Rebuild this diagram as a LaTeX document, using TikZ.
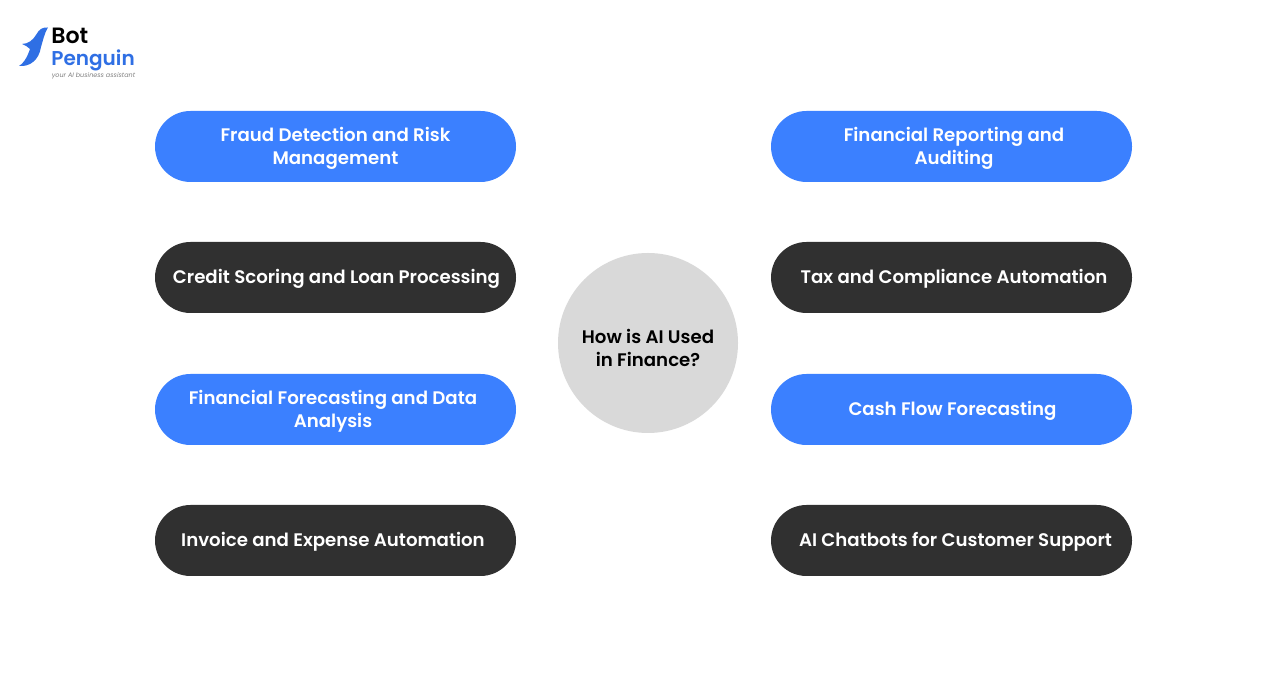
\documentclass[tikz,border=0pt]{standalone}
\usepackage{fontspec}
\setmainfont{Poppins}[BoldFont=Poppins SemiBold]
\usepackage{tikz}
\usetikzlibrary{shapes.misc}
\definecolor{pillBlue}{HTML}{3B80FF}
\definecolor{pillDark}{HTML}{303030}
\definecolor{hubGray}{HTML}{D9D9D9}
\definecolor{logoBlue}{HTML}{2F6FE4}
\tikzstyle{tsPillText} = [
    text=white,
    font=\bfseries\fontsize{10.35}{13.1}\selectfont,
    align=center,
    yshift=-0.03cm
]
\tikzstyle{tsHubText} = [
    tsPillText,
    text=black,
    yshift=-0.06cm
]
\tikzstyle{tsPill} = [
    rounded rectangle,
    minimum width=7.22cm,
    minimum height=1.42cm,
    inner sep=0pt
]
\tikzstyle{tsBluePill} = [tsPill, fill=pillBlue]
\tikzstyle{tsDarkPill} = [tsPill, fill=pillDark]

\begin{document}
\begin{tikzpicture}
    \useasboundingbox (0,0) rectangle (25.76,13.72);

    % Logo
    \fill[logoBlue] (0.96,13.17) .. controls (0.86,13.18) and (0.78,13.14) .. (0.72,13.02)
        .. controls (0.66,12.92) and (0.56,12.84) .. (0.44,12.84)
        .. controls (0.50,12.82) and (0.56,12.78) .. (0.60,12.74)
        .. controls (0.54,12.56) and (0.46,12.44) .. (0.38,12.40)
        .. controls (0.60,12.38) and (0.78,12.52) .. (0.82,12.78)
        .. controls (0.86,12.90) and (0.88,13.04) .. cycle;
    \node[font=\bfseries\fontsize{12.6}{13}\selectfont, text=black, anchor=base west, inner sep=0pt]
        (logoBot) at (1.02,12.84) {Bot};
    \node[font=\bfseries\fontsize{11.4}{12}\selectfont, text=logoBlue, anchor=base west, inner sep=0pt]
        (logoPenguin) at (1.02,12.40) {Penguin};
    \node[font=\itshape\fontsize{3.66}{5}\selectfont, text=gray, anchor=base west, inner sep=0pt]
        (logoTag) at (1.03,12.16) {your AI business assistant};

    % Center circle
    \node[circle, fill=hubGray, minimum size=3.6cm, inner sep=0pt] (hub) at (12.96,6.86) {};
    \node[tsHubText] (hubText) at (hub) {How is AI Used\\in Finance?};

    % Left column
    \node[tsBluePill] (fraud) at (6.71,10.79) {};
    \node[tsPillText] (fraudText) at (fraud) {Fraud Detection and Risk\\Management};
    \node[tsDarkPill] (credit) at (6.71,8.17) {};
    \node[tsPillText, xshift=0.02cm] (creditText) at (credit) {Credit Scoring and Loan Processing};
    \node[tsBluePill] (forecast) at (6.71,5.53) {};
    \node[tsPillText, xshift=-0.05cm] (forecastText) at (forecast) {Financial Forecasting and Data\\Analysis};
    \node[tsDarkPill] (invoice) at (6.71,2.91) {};
    \node[tsPillText, xshift=-0.05cm] (invoiceText) at (invoice) {Invoice and Expense Automation};

    % Right column
    \node[tsBluePill] (report) at (19.03,10.79) {};
    \node[tsPillText, xshift=0.05cm] (reportText) at (report) {Financial Reporting and\\Auditing};
    \node[tsDarkPill] (tax) at (19.03,8.17) {};
    \node[tsPillText, xshift=0.05cm] (taxText) at (tax) {Tax and Compliance Automation};
    \node[tsBluePill] (cash) at (19.03,5.53) {};
    \node[tsPillText, xshift=0.02cm] (cashText) at (cash) {Cash Flow Forecasting};
    \node[tsDarkPill] (chatbot) at (19.03,2.91) {};
    \node[tsPillText, xshift=0.08cm] (chatbotText) at (chatbot) {AI Chatbots for Customer Support};
\end{tikzpicture}
\end{document}
